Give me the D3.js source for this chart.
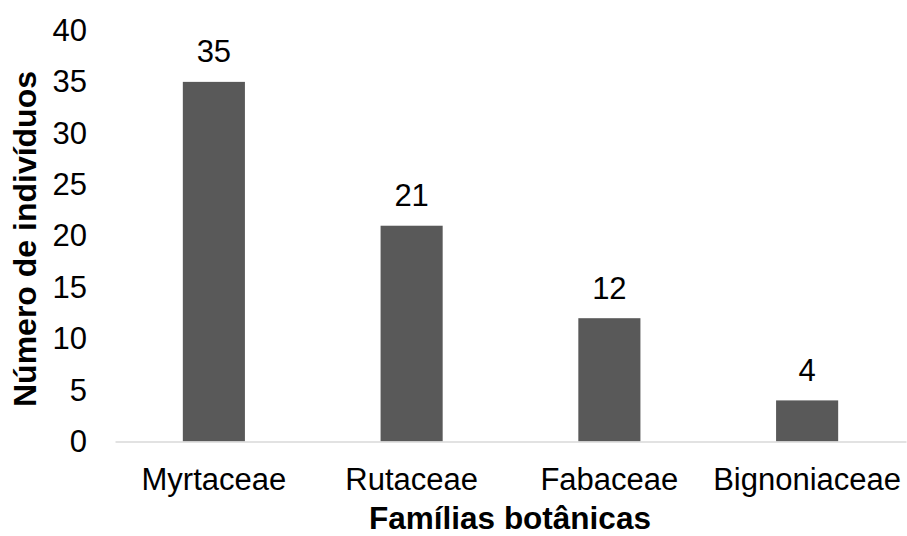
<!DOCTYPE html>
<html>
<head>
<meta charset="utf-8">
<script src="https://cdn.jsdelivr.net/npm/d3@7"></script>
<style>
  html, body { margin: 0; padding: 0; background: #fff; }
  svg text { font-family: "Liberation Sans", Arial, sans-serif; fill: #000; }
</style>
</head>
<body>
<svg id="chart" width="907" height="536"></svg>
<script>
// Number of individuals per botanical family
const families = ["Myrtaceae", "Rutaceae", "Fabaceae", "Bignoniaceae"];
const individuals = [35, 21, 12, 4];
const yTicks = [0, 5, 10, 15, 20, 25, 30, 35, 40];

const svg = d3.select("#chart");
const plot = { left: 115, right: 906, top: 30.5, bottom: 441.5 };

const x = d3.scaleBand()
  .domain(families)
  .range([plot.left, plot.right])
  .paddingInner(0.686)
  .paddingOuter(0.343);

const y = d3.scaleLinear()
  .domain([0, 40])
  .range([plot.bottom, plot.top]);

// Value axis: labels only, no line or ticks
const yAxis = svg.append("g")
  .attr("transform", `translate(${plot.left},0)`)
  .call(d3.axisLeft(y).tickValues(yTicks).tickSize(0).tickPadding(28));
yAxis.select(".domain").remove();
yAxis.selectAll("text")
  .attr("font-size", "31px")
  .attr("font-family", "Liberation Sans, Arial, sans-serif")
  .attr("fill", "#000");

// Bars
svg.append("g")
  .selectAll("rect")
  .data(families)
  .join("rect")
  .attr("x", d => x(d))
  .attr("width", x.bandwidth())
  .attr("y", (d, i) => y(individuals[i]))
  .attr("height", (d, i) => y(0) - y(individuals[i]))
  .attr("fill", "#595959");

// Category axis with light baseline
const xAxis = svg.append("g")
  .attr("transform", `translate(0,${plot.bottom})`)
  .call(d3.axisBottom(x).tickSize(0).tickPadding(26));
xAxis.select(".domain").attr("stroke", "#d9d9d9").attr("stroke-width", 1.5);
xAxis.selectAll("text")
  .attr("font-size", "31px")
  .attr("font-family", "Liberation Sans, Arial, sans-serif")
  .attr("fill", "#000");

// Value labels above bars
svg.append("g")
  .selectAll("text")
  .data(families)
  .join("text")
  .attr("x", d => x(d) + x.bandwidth() / 2)
  .attr("y", (d, i) => y(individuals[i]) - 19.5)
  .attr("text-anchor", "middle")
  .attr("font-size", "31px")
  .text((d, i) => individuals[i]);

// Axis titles
svg.append("text")
  .attr("x", 510)
  .attr("y", 529)
  .attr("text-anchor", "middle")
  .attr("font-size", "31.5px")
  .attr("font-weight", "bold")
  .text("Famílias botânicas");

svg.append("text")
  .attr("transform", "translate(36,239) rotate(-90)")
  .attr("text-anchor", "middle")
  .attr("font-size", "32px")
  .attr("font-weight", "bold")
  .text("Número de indivíduos");
</script>
</body>
</html>
